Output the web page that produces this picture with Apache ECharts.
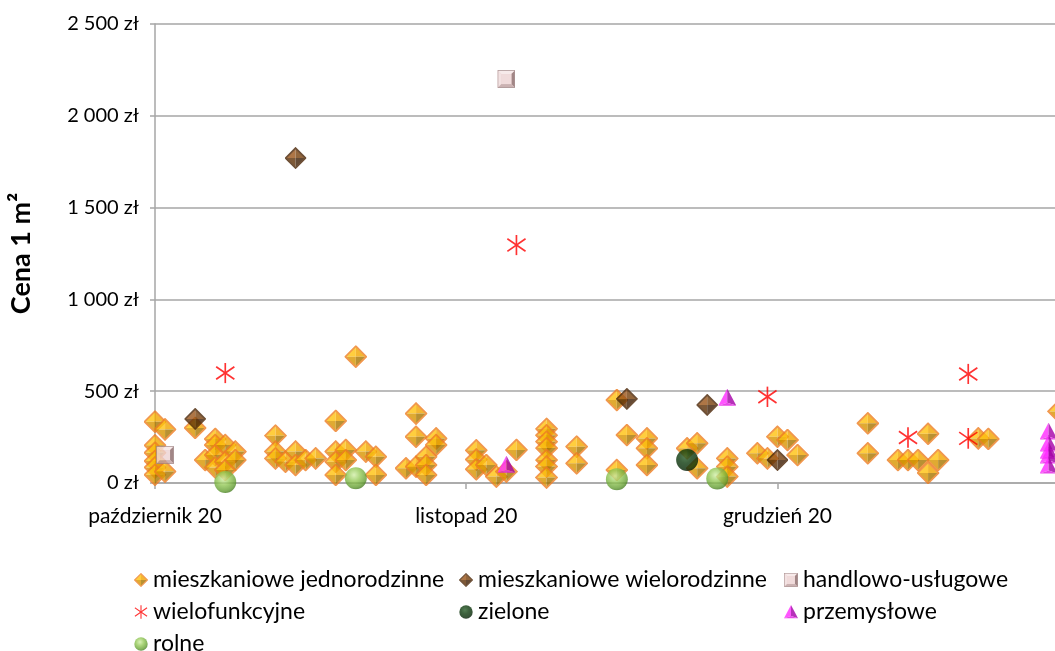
<!DOCTYPE html>
<html>
<head>
<meta charset="utf-8">
<script src="https://cdn.jsdelivr.net/npm/echarts@6/dist/echarts.min.js"></script>
<style>
  html, body { margin: 0; padding: 0; background: #ffffff; }
  #chart { width: 1055px; height: 651px; }
</style>
</head>
<body>
<div id="chart"></div>
<script>
// Transaction prices per 1 m², October–December 2020, by land use.
const START_DATE = '2020-10-01';
const xTickLabels = ['październik 20', 'listopad 20', 'grudzień 20'];
const seriesNames = [
  'mieszkaniowe jednorodzinne',
  'mieszkaniowe wielorodzinne',
  'handlowo-usługowe',
  'wielofunkcyjne',
  'zielone',
  'przemysłowe',
  'rolne'
];

const mieszkanioweJednorodzinne = [
  ['2020-10-01', 334], ['2020-10-01', 205], ['2020-10-01', 165], ['2020-10-01', 120], ['2020-10-01', 85], ['2020-10-01', 45],
  ['2020-10-02', 292], ['2020-10-02', 62],
  ['2020-10-05', 300],
  ['2020-10-06', 125],
  ['2020-10-07', 240], ['2020-10-07', 207], ['2020-10-07', 152], ['2020-10-07', 85],
  ['2020-10-08', 207], ['2020-10-08', 116], ['2020-10-08', 71],
  ['2020-10-09', 171], ['2020-10-09', 125],
  ['2020-10-13', 258], ['2020-10-13', 171], ['2020-10-13', 134],
  ['2020-10-14', 116],
  ['2020-10-15', 171], ['2020-10-15', 98],
  ['2020-10-16', 125],
  ['2020-10-17', 134],
  ['2020-10-19', 338], ['2020-10-19', 171], ['2020-10-19', 116], ['2020-10-19', 44],
  ['2020-10-20', 180], ['2020-10-20', 125],
  ['2020-10-21', 688],
  ['2020-10-22', 171],
  ['2020-10-23', 143], ['2020-10-23', 44],
  ['2020-10-26', 80],
  ['2020-10-27', 378], ['2020-10-27', 252], ['2020-10-27', 89],
  ['2020-10-28', 143], ['2020-10-28', 98], ['2020-10-28', 44],
  ['2020-10-29', 243], ['2020-10-29', 207],
  ['2020-11-02', 178], ['2020-11-02', 128], ['2020-11-02', 75],
  ['2020-11-03', 98],
  ['2020-11-04', 35],
  ['2020-11-05', 62],
  ['2020-11-06', 180],
  ['2020-11-09', 295], ['2020-11-09', 260], ['2020-11-09', 225], ['2020-11-09', 190], ['2020-11-09', 125], ['2020-11-09', 90], ['2020-11-09', 30],
  ['2020-11-12', 198], ['2020-11-12', 107],
  ['2020-11-16', 452], ['2020-11-16', 71],
  ['2020-11-17', 261],
  ['2020-11-19', 243], ['2020-11-19', 189], ['2020-11-19', 98],
  ['2020-11-23', 189],
  ['2020-11-24', 216], ['2020-11-24', 80],
  ['2020-11-27', 134], ['2020-11-27', 89], ['2020-11-27', 35],
  ['2020-11-30', 162],
  ['2020-12-01', 134],
  ['2020-12-02', 252],
  ['2020-12-03', 234],
  ['2020-12-04', 152],
  ['2020-12-11', 325], ['2020-12-11', 162],
  ['2020-12-14', 125],
  ['2020-12-15', 125],
  ['2020-12-16', 125],
  ['2020-12-17', 268], ['2020-12-17', 55],
  ['2020-12-18', 125],
  ['2020-12-22', 243],
  ['2020-12-23', 240],
  ['2020-12-30', 390]
];
const mieszkanioweWielorodzinne = [
  ['2020-10-05', 349], ['2020-10-15', 1770], ['2020-11-17', 458], ['2020-11-25', 425], ['2020-12-02', 125]
];
const handlowoUslugowe = [
  ['2020-10-02', 152], ['2020-11-05', 2200]
];
const wielofunkcyjne = [
  ['2020-10-08', 599], ['2020-11-06', 1296], ['2020-12-01', 470], ['2020-12-15', 248], ['2020-12-21', 594], ['2020-12-21', 243]
];
const zielone = [
  ['2020-11-23', 125]
];
const przemyslowe = [
  ['2020-11-05', 100], ['2020-11-27', 465],
  ['2020-12-29', 280], ['2020-12-29', 215], ['2020-12-29', 175], ['2020-12-29', 150], ['2020-12-29', 95]
];
const rolne = [
  ['2020-10-08', 5], ['2020-10-21', 26], ['2020-11-16', 20], ['2020-11-26', 25]
];

// ---- marker artwork (small bevelled / shaded shapes) ----
function svgSymbol(body, w, h) {
  const svg = "<svg xmlns='http://www.w3.org/2000/svg' width='" + w + "' height='" + h +
    "' viewBox='0 0 " + w + " " + h + "'>" + body + "</svg>";
  return 'image://data:image/svg+xml;charset=utf-8,' + encodeURIComponent(svg);
}
function pyramid(tl, tr, bl, br, edge) {
  return svgSymbol(
    "<polygon points='11,1 1,11 11,11' fill='" + tl + "'/>" +
    "<polygon points='11,1 21,11 11,11' fill='" + tr + "'/>" +
    "<polygon points='1,11 11,21 11,11' fill='" + bl + "'/>" +
    "<polygon points='21,11 11,21 11,11' fill='" + br + "'/>" +
    "<polygon points='11,1 21,11 11,21 1,11' fill='none' stroke='" + edge + "' stroke-width='1.7'/>",
    22, 22);
}
const symOrange = pyramid('#FFC20E', '#F2A600', '#D99600', '#A87600', '#EE7E22');
const symBrown = pyramid('#9A5418', '#77400C', '#5E3006', '#3E1E03', '#4A2506');
const symPink = svgSymbol(
  "<rect x='0' y='0' width='18' height='18' fill='#E6C6C6'/>" +
  "<polygon points='0,0 18,0 14,4 4,4' fill='#F6E6E6'/>" +
  "<polygon points='0,0 4,4 4,14 0,18' fill='#F1DCDC'/>" +
  "<polygon points='18,0 18,18 14,14 14,4' fill='#8A6868'/>" +
  "<polygon points='0,18 18,18 14,14 4,14' fill='#BFA0A0'/>" +
  "<rect x='4' y='4' width='10' height='10' fill='#EDD3D3'/>" +
  "<rect x='0.5' y='0.5' width='17' height='17' fill='none' stroke='#9C8080' stroke-width='0.8'/>",
  18, 18);
const symStar = svgSymbol(
  "<g stroke='#FF0000' stroke-width='1.6' stroke-linecap='square'>" +
  "<line x1='10' y1='1' x2='10' y2='19'/>" +
  "<line x1='2' y1='4.5' x2='18' y2='15.5'/>" +
  "<line x1='2' y1='15.5' x2='18' y2='4.5'/></g>",
  20, 20);
function sphere(id, c0, c1, c2, c3) {
  return svgSymbol(
    "<defs><radialGradient id='" + id + "' cx='0.42' cy='0.35' r='0.65'>" +
    "<stop offset='0' stop-color='" + c0 + "'/>" +
    "<stop offset='0.45' stop-color='" + c1 + "'/>" +
    "<stop offset='0.85' stop-color='" + c2 + "'/>" +
    "<stop offset='1' stop-color='" + c3 + "'/></radialGradient></defs>" +
    "<circle cx='11' cy='11' r='10.5' fill='url(#" + id + ")'/>",
    22, 22);
}
const symGreenDark = sphere('g1', '#2A5F2A', '#0E3B0E', '#062A06', '#021802');
const symGreenLight = sphere('g2', '#D2EFA8', '#94C957', '#66A034', '#4A8024');
const symTriangle = svgSymbol(
  "<polygon points='9,0 0,17 9,14' fill='#FF2BFF'/>" +
  "<polygon points='9,0 9,14 18,17' fill='#A400A8'/>" +
  "<polygon points='0,17 18,17 9,14' fill='#E21BE2'/>",
  18, 18);

// ---- helpers ----
const DAY_MS = 86400000;
const startMs = Date.parse(START_DATE);
const toDay = s => (Date.parse(s) - startMs) / DAY_MS;
const toPoints = arr => arr.map(([d, v]) => [toDay(d), v]);
const formatZl = v => String(v).replace(/\B(?=(\d{3})+(?!\d))/g, ' ') + ' zł';

const FONT = 'Lato, "Open Sans", "DejaVu Sans", sans-serif';
const GRID_COLOR = '#a6a6a6';
const MONTH_STEP = 31;                       // label step along the day axis
const GRID_LEFT = 155;
const PX_PER_DAY = 10.04;
const X_MAX = (1055 - GRID_LEFT) / PX_PER_DAY; // visible span in days; plot continues past the edge

const styles = [
  { data: mieszkanioweJednorodzinne, symbol: symOrange, size: 23 },
  { data: mieszkanioweWielorodzinne, symbol: symBrown, size: 22 },
  { data: handlowoUslugowe, symbol: symPink, size: 18 },
  { data: wielofunkcyjne, symbol: symStar, size: 21 },
  { data: zielone, symbol: symGreenDark, size: 23 },
  { data: przemyslowe, symbol: symTriangle, size: 18 },
  { data: rolne, symbol: symGreenLight, size: 23 }
];

const series = styles.map((s, i) => ({
  name: seriesNames[i],
  type: 'scatter',
  data: toPoints(s.data),
  symbol: s.symbol,
  symbolSize: s.size,
  clip: false,
  z: 2 + i,
  emphasis: { disabled: true }
}));

// legend: three columns, three rows
const legendText = { fontFamily: FONT, fontSize: 23, color: '#000000', lineHeight: 24 };
const legendCols = [129, 454, 779];
const legendRows = [563, 595, 627];
const legendSlots = [[0, 0], [1, 0], [2, 0], [0, 1], [1, 1], [2, 1], [0, 2]];
const legends = seriesNames.map((name, i) => ({
  orient: 'horizontal',
  left: legendCols[legendSlots[i][0]],
  top: legendRows[legendSlots[i][1]],
  itemWidth: 14, itemHeight: 16, itemGap: 0,
  selectedMode: false,
  textStyle: legendText,
  data: [name]
}));

const chart = echarts.init(document.getElementById('chart'), null, { renderer: 'canvas' });
chart.setOption({
  animation: false,
  backgroundColor: '#ffffff',
  grid: { left: GRID_LEFT, top: 24, height: 459, right: 0 },
  legend: legends,
  xAxis: {
    type: 'value',
    min: 0,
    max: X_MAX,
    interval: MONTH_STEP,
    axisLine: { show: true, onZero: false, lineStyle: { color: GRID_COLOR, width: 1.5 } },
    axisTick: { show: true, length: 6, customValues: [0, 31, 62], lineStyle: { color: GRID_COLOR, width: 1.5 } },
    axisLabel: {
      customValues: [0, 31, 62],
      margin: 23,
      fontFamily: FONT, fontSize: 21, color: '#000000',
      formatter: v => xTickLabels[Math.round(v / MONTH_STEP)] || ''
    },
    splitLine: { show: false }
  },
  yAxis: {
    type: 'value',
    min: 0, max: 2500, interval: 500,
    name: 'Cena 1 m²',
    nameLocation: 'middle',
    nameGap: 120,
    nameTextStyle: { fontFamily: FONT, fontSize: 27, fontWeight: 'bold', color: '#000000' },
    axisLine: { show: true, lineStyle: { color: GRID_COLOR, width: 1.5 } },
    axisTick: { show: true, length: 5, lineStyle: { color: GRID_COLOR, width: 1.5 } },
    axisLabel: { margin: 16, fontFamily: FONT, fontSize: 20, color: '#000000', formatter: formatZl },
    splitLine: { show: true, lineStyle: { color: GRID_COLOR, width: 1.5 } }
  },
  series: series
});
</script>
</body>
</html>
